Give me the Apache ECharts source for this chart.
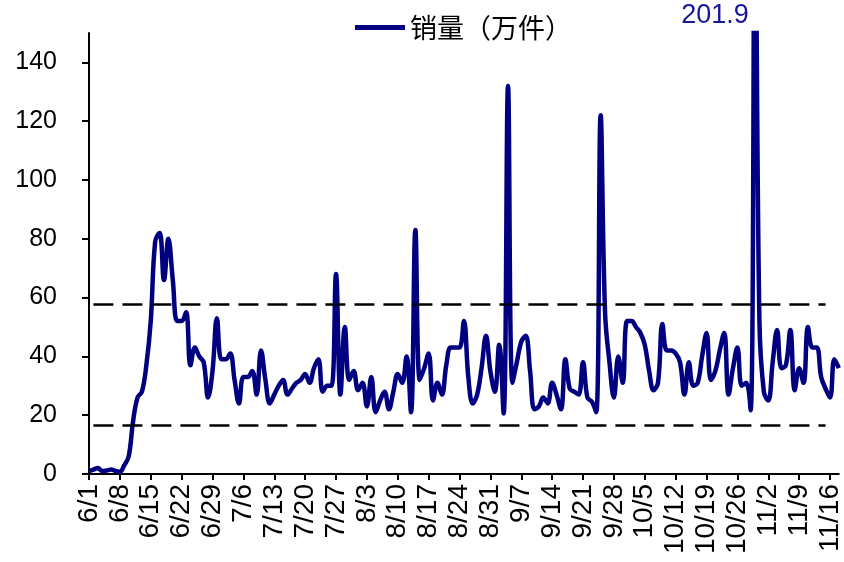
<!DOCTYPE html>
<html>
<head>
<meta charset="utf-8">
<script src="https://cdn.jsdelivr.net/npm/echarts@6/dist/echarts.min.js"></script>
<style>
  html, body { margin: 0; padding: 0; background: #fff; }
  #chart { width: 844px; height: 562px; }
</style>
</head>
<body>
<div id="chart"></div>
<script>
// 日期：6/1 - 11/18，每天一个点
const dates = [];
for (let d = new Date(2020, 5, 1); d <= new Date(2020, 10, 18); d.setDate(d.getDate() + 1)) {
  dates.push((d.getMonth() + 1) + '/' + d.getDate());
}

// 销量（万件）
const sales = [
  1, 1.5, 2, 1, 1.2, 1.5, 1, 0.8, 3, 6,
  18, 26, 28, 37, 52, 79, 82, 66, 80, 66,
  52, 52, 55, 37, 43, 40, 38, 26, 35, 53,
  39, 39, 41, 32, 24, 33, 33, 35, 27, 42,
  32, 24, 27, 30, 32, 27, 29, 31, 32, 34,
  31, 36, 39, 28, 30, 30, 68, 27, 50, 32,
  35, 28.5, 31, 23, 33, 21, 25, 28, 22, 28,
  34, 31, 40, 21, 83, 32, 36, 41, 25, 31,
  27, 37, 43, 43, 43, 52, 33, 24, 27, 36,
  47, 35, 28, 44, 20.6, 132, 31, 38, 45, 47,
  35, 22, 23, 26, 24, 31, 27, 22, 39, 29,
  28, 27, 38, 26, 24.6, 21, 122, 55, 38, 26,
  40, 31, 52, 52, 50, 48, 44, 35, 28.5, 31,
  51, 42, 42, 41, 38, 27, 38, 30, 31, 40,
  48, 32, 35, 42, 48, 27, 36, 43, 30, 31,
  21.7, 201.9, 52, 28, 25, 38, 49, 36, 37, 49,
  28.5, 36, 31, 50, 43, 43, 33, 29, 26, 39, 36
];

// 上下两条虚线
const refLines = [57.8, 16.6];
const refStart = 1;
const refEnd = 167;

const yTicks = [0, 20, 40, 60, 80, 100, 120, 140];
const yMax = 150;

const chart = echarts.init(document.getElementById('chart'));
const peakIdx = sales.indexOf(Math.max(...sales));
const numFont = 'Liberation Sans';

const option = {
  animation: false,
  grid: { left: 89, right: 1, top: 33, bottom: 88 },
  legend: {
    top: 9,
    left: 350,
    itemWidth: 50,
    itemHeight: 5,
    textStyle: { fontFamily: 'Noto Sans CJK SC', fontSize: 27, color: '#000' },
    data: [{ name: '销量（万件）', icon: 'rect' }]
  },
  xAxis: {
    type: 'category',
    data: dates,
    boundaryGap: false,
    axisLine: { lineStyle: { color: '#000', width: 2 } },
    axisTick: { interval: 6, length: 6, lineStyle: { color: '#000', width: 2 } },
    axisLabel: {
      interval: 6,
      rotate: 90,
      margin: 10,
      fontSize: 28,
      color: '#000',
      fontFamily: numFont
    }
  },
  yAxis: {
    type: 'value',
    min: 0,
    max: yMax,
    axisLine: { show: true, lineStyle: { color: '#000', width: 2 } },
    axisTick: { show: true, length: 7, customValues: yTicks, lineStyle: { color: '#000', width: 2 } },
    axisLabel: { customValues: yTicks, margin: 32, fontSize: 25, color: '#000', fontFamily: numFont },
    splitLine: { show: false }
  },
  series: [
    {
      name: '销量（万件）',
      type: 'line',
      data: sales,
      smooth: 0.4,
      symbol: 'none',
      lineStyle: { color: '#000080', width: 4.5 },
      itemStyle: { color: '#000080' },
      markLine: {
        silent: true,
        symbol: 'none',
        label: { show: false },
        lineStyle: { color: '#000', type: [20, 9], width: 2.5 },
        data: refLines.map(v => [
          { coord: [dates[refStart], v] },
          { coord: [dates[refEnd], v] }
        ])
      },
      markPoint: {
        symbol: 'circle',
        symbolSize: 0,
        label: {
          show: true,
          position: 'top',
          distance: 0,
          offset: [-40, -4],
          formatter: String(sales[peakIdx]),
          color: '#16169a',
          fontSize: 27,
          fontFamily: numFont
        },
        data: [{ coord: [dates[peakIdx], yMax] }]
      }
    }
  ]
};

chart.setOption(option);
</script>
</body>
</html>
